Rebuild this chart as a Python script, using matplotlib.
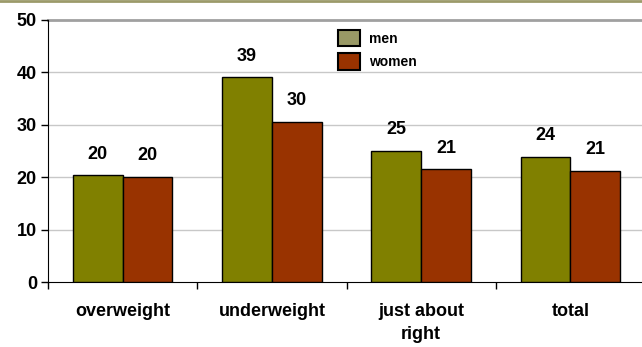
import matplotlib
matplotlib.use("Agg")
import matplotlib.pyplot as plt
from matplotlib.patches import Patch
from matplotlib.lines import Line2D
import numpy as np

plt.rcParams["font.family"] = ["Liberation Sans", "DejaVu Sans"]
plt.rcParams["font.weight"] = "bold"

categories = ["overweight", "underweight", "just about\nright", "total"]
men = [20.4, 39.1, 25.0, 23.9]
women = [20.1, 30.6, 21.5, 21.2]
men_labels = ["20", "39", "25", "24"]
women_labels = ["20", "30", "21", "21"]

men_color = "#808000"
women_color = "#993300"

fig = plt.figure(figsize=(6.42, 3.47), dpi=100)
ax = fig.add_axes([0.0748, 0.1873, 0.93, 0.7551])

x = np.arange(len(categories))
w = 1 / 3
ax.bar(x - w / 2, men, width=w, color=men_color, edgecolor="black", linewidth=1.0, zorder=3)
ax.bar(x + w / 2, women, width=w, color=women_color, edgecolor="black", linewidth=1.0, zorder=3)

for xi, v, lab in zip(x - w / 2, men, men_labels):
    ax.annotate(lab, xy=(xi, v), xytext=(0, 9), textcoords="offset points",
                ha="center", va="bottom", fontsize=13, fontweight="bold")
for xi, v, lab in zip(x + w / 2, women, women_labels):
    ax.annotate(lab, xy=(xi, v), xytext=(0, 9), textcoords="offset points",
                ha="center", va="bottom", fontsize=13, fontweight="bold")

ax.set_ylim(0, 50)
ax.set_xlim(-0.5, 3.5)
ax.set_yticks([0, 10, 20, 30, 40, 50])
for gy in [10, 20, 30, 40]:
    ax.axhline(gy, color="#c8c8c8", linewidth=1.0, zorder=1)
ax.axhline(50, color="#a0a0a0", linewidth=2.0, zorder=1, clip_on=False)

ax.set_xticks(x)
ax.set_xticklabels(categories, fontsize=13, fontweight="bold", linespacing=1.45)
ax.set_xticks(np.arange(-0.5, 3.6, 1.0), minor=True)
ax.tick_params(axis="x", which="major", length=0, pad=15)
ax.tick_params(axis="x", which="minor", length=5, width=1.0, direction="out")
ax.tick_params(axis="y", length=5, width=1.0, direction="out", labelsize=13, pad=3)
for t in ax.get_yticklabels():
    t.set_fontweight("bold")

ax.spines["top"].set_visible(False)
ax.spines["right"].set_visible(False)
ax.spines["left"].set_color("black")
ax.spines["bottom"].set_color("black")

handles = [Patch(facecolor="#999966", edgecolor="black", linewidth=1.5, label="men"),
           Patch(facecolor=women_color, edgecolor="black", linewidth=1.5, label="women")]
leg = ax.legend(handles=handles, loc="upper left", bbox_to_anchor=(0.465, 1.01),
                frameon=False, prop={"weight": "bold", "size": 10},
                handlelength=1.6, handleheight=1.45, labelspacing=0.5, handletextpad=0.6)
leg.set_zorder(5)

fig.add_artist(Line2D([0, 1], [0.997, 0.997], transform=fig.transFigure,
                      color="#9c9a6a", linewidth=2.0))

fig.savefig("out.png", dpi=100)
